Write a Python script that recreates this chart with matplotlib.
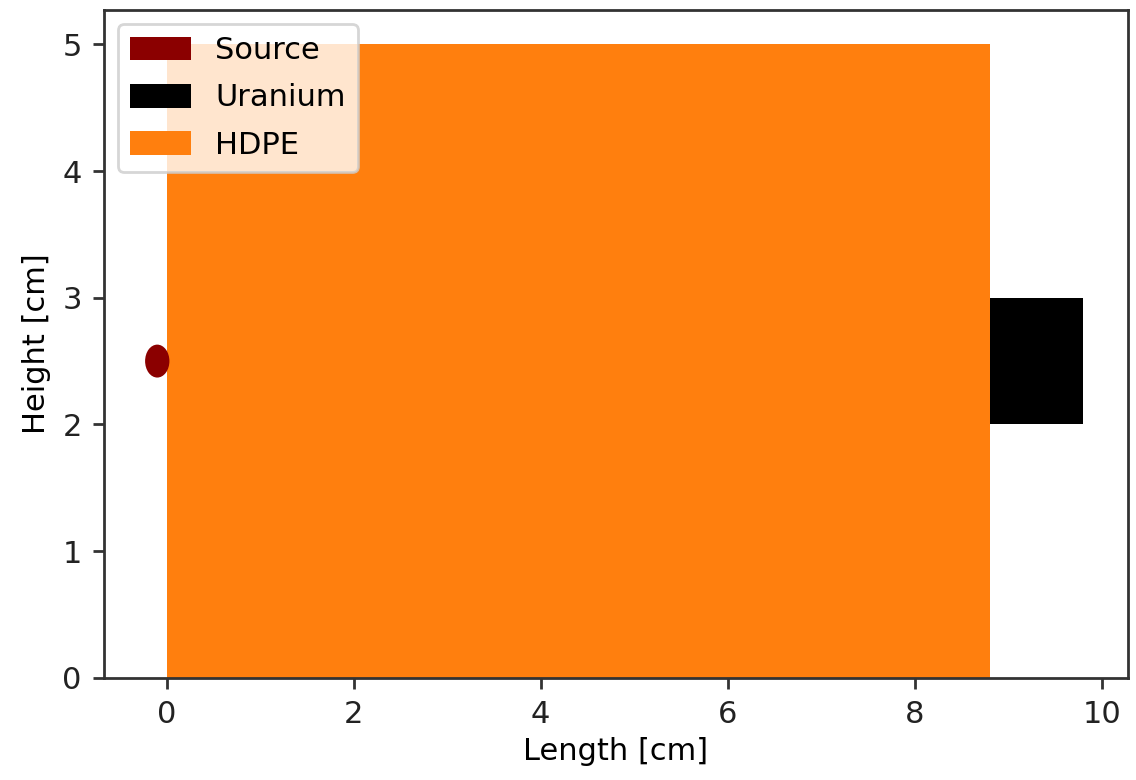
import matplotlib
matplotlib.use("Agg")
import matplotlib.pyplot as plt
from matplotlib.patches import Rectangle, Ellipse, Patch

# materials: name, colour
labels = ["Source", "Uranium", "HDPE"]
colors = ["darkred", "black", "#ff7f0e"]

# geometry in cm
hdpe_x = [0.0, 8.8]      # left, right
hdpe_y = [0.0, 5.0]      # bottom, top
uranium_x = [8.8, 9.8]
uranium_y = [2.0, 3.0]
source_xy = [-0.1, 2.5]
source_r = 0.13

plt.rcParams['font.family'] = ['DejaVu Sans']
plt.rcParams['font.size'] = 22

fig = plt.figure(figsize=(11.36, 7.8), dpi=100)
ax = fig.add_axes([0.0915, 0.131, 0.9015, 0.856])

ax.add_patch(Rectangle((hdpe_x[0], hdpe_y[0]), hdpe_x[1] - hdpe_x[0], hdpe_y[1] - hdpe_y[0],
                       facecolor=colors[2], edgecolor="none"))
ax.add_patch(Rectangle((uranium_x[0], uranium_y[0]), uranium_x[1] - uranium_x[0],
                       uranium_y[1] - uranium_y[0], facecolor=colors[1], edgecolor="none"))
ax.add_patch(Ellipse(source_xy, 2 * source_r, 2 * source_r, facecolor=colors[0],
                     edgecolor="none", zorder=3))

ax.set_xlim(-0.67, 10.28)
ax.set_ylim(0, 5.27)
ax.set_xticks([0, 2, 4, 6, 8, 10])
ax.set_yticks([0, 1, 2, 3, 4, 5])
ax.set_xlabel("Length [cm]", labelpad=6)
ax.set_ylabel("Height [cm]", labelpad=8)

for s in ax.spines.values():
    s.set_linewidth(2.0)
    s.set_color("#333333")
ax.tick_params(width=2.0, length=8, color="#333333", labelcolor="#222222", pad=8)

handles = [Patch(facecolor=c, label=l) for c, l in zip(colors, labels)]
leg = ax.legend(handles=handles, loc="upper left", fontsize=22, handlelength=2.0,
                handleheight=0.8, framealpha=0.8, borderaxespad=0.45, labelspacing=0.6)
leg.get_frame().set_linewidth(2.0)

fig.savefig("out.png", dpi=100)
